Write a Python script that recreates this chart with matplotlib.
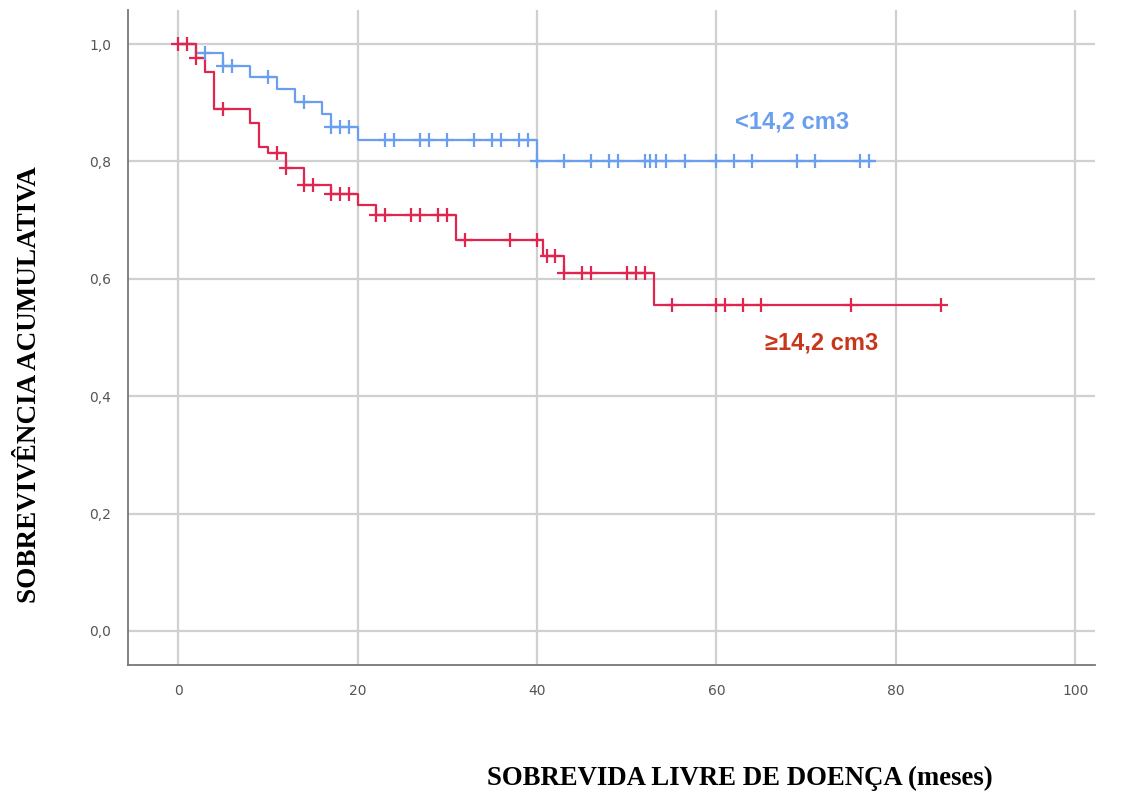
import numpy as np
import matplotlib
matplotlib.use('Agg')
from matplotlib import pyplot as plt
from matplotlib.ticker import FuncFormatter, MultipleLocator

# Kaplan-Meier steps: event times (months) and cumulative survival after each step
blue_times = [0, 2, 5, 8, 11, 13, 16, 17, 20, 40]
blue_surv = [1.0, 0.985, 0.963, 0.943, 0.923, 0.902, 0.881, 0.859, 0.836, 0.80]
blue_end = 77.5
blue_censored = [3, 5, 6, 10, 14, 17, 18, 19, 23, 24, 27, 28, 30, 33, 35, 36, 38, 39,
                 40, 43, 46, 48, 49, 52, 52.6, 53.3, 54.4, 56.5, 60, 62, 64, 69, 71, 76, 77]

red_times = [0, 2, 3, 4, 8, 9, 10, 12, 14, 17, 20, 22, 31, 40.7, 43, 53]
red_surv = [1.0, 0.976, 0.953, 0.889, 0.865, 0.825, 0.814, 0.789, 0.760, 0.744,
            0.726, 0.709, 0.666, 0.639, 0.610, 0.555]
red_end = 85
red_censored = [0, 1, 2, 5, 11, 12, 14, 15, 17, 18, 19, 22, 23, 26, 27, 29, 30, 32, 37,
                40, 41.1, 42, 43, 45, 46, 50, 51, 52, 55, 60, 61, 63, 65, 75, 85]

blue_label = '<14,2 cm3'
red_label = '\u226514,2 cm3'

blue_col = '#6a9ff0'
red_col = '#e0264f'


def surv_at(times, surv, t):
    idx = np.searchsorted(times, t, side='right') - 1
    return np.asarray(surv)[idx]


fig = plt.figure(figsize=(11.25, 7.96), dpi=100)
ax = fig.add_axes([128 / 1125, 1 - 665 / 796, (1095 - 128) / 1125, (665 - 10) / 796])

for times, surv, end, cens, col in [(blue_times, blue_surv, blue_end, blue_censored, blue_col),
                                    (red_times, red_surv, red_end, red_censored, red_col)]:
    xs = list(times) + [end]
    ys = list(surv) + [surv[-1]]
    ax.step(xs, ys, where='post', color=col, lw=1.6, zorder=3)
    cy = surv_at(np.array(times), surv, np.array(cens))
    ax.plot(cens, cy, ls='none', marker='+', ms=10, mew=1.6, color=col, zorder=4)

ax.set_xlim(-5.6, 102.2)
ax.set_ylim(-0.058, 1.058)
ax.xaxis.set_major_locator(MultipleLocator(20))
ax.yaxis.set_major_locator(MultipleLocator(0.2))
ax.yaxis.set_major_formatter(FuncFormatter(lambda v, p: f'{v:.1f}'.replace('.', ',')))
ax.grid(True, color='#d0d0d0', lw=1.6, zorder=0)
ax.set_axisbelow(True)
for s in ['top', 'right']:
    ax.spines[s].set_visible(False)
for s in ['left', 'bottom']:
    ax.spines[s].set_color('#777777')
    ax.spines[s].set_linewidth(1.3)
ax.tick_params(length=0, labelsize=10, labelcolor='#555555')
ax.tick_params(axis='x', pad=14)
ax.tick_params(axis='y', pad=12)

ax.text(62.1, 0.867, blue_label, color=blue_col, fontsize=17, fontweight='bold',
        family='Liberation Sans', va='center', ha='left')
ax.text(65.4, 0.49, red_label, color='#c8361c', fontsize=17, fontweight='bold',
        family='Liberation Sans', va='center', ha='left')

fig.text(740 / 1125, 1 - 778 / 796, 'SOBREVIDA LIVRE DE DOENÇA (meses)', ha='center', va='center',
         fontsize=19.3, fontweight='bold', family='Liberation Serif')
fig.text(30 / 1125, 1 - 385 / 796, 'SOBREVIVÊNCIA ACUMULATIVA', ha='center', va='center',
         rotation=90, fontsize=19.5, fontweight='bold', family='Liberation Serif')

fig.savefig('out.png', dpi=100)
